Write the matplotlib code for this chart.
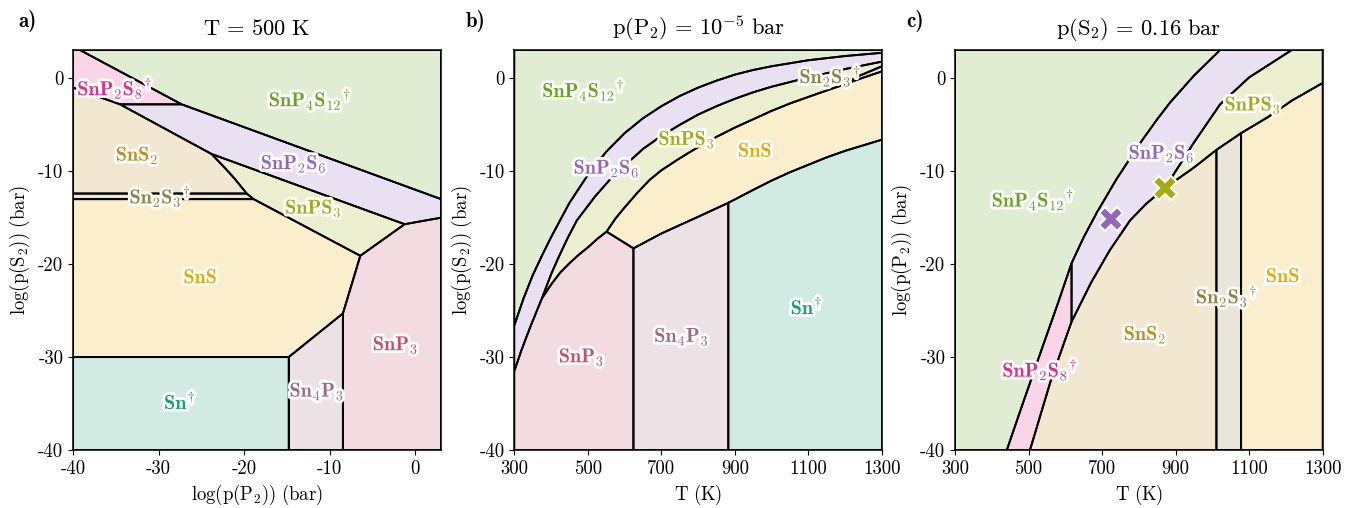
import numpy as np
import matplotlib
matplotlib.use('Agg')
import matplotlib.pyplot as plt
import matplotlib.patheffects as pe
from matplotlib.colors import to_rgba

plt.rcParams['font.family'] = 'serif'
plt.rcParams['font.serif'] = ['cmr10']
plt.rcParams['mathtext.fontset'] = 'cm'
plt.rcParams['axes.unicode_minus'] = False
plt.rcParams['font.size'] = 13.5

###### Phase colours #######################################
col = {'Sn': '#1b9e77', 'SnS': '#e6ab02', 'SnS2': '#c0901e', 'Sn2S3': '#8a8444',
       'SnPS3': '#a4ac14', 'SnP2S6': '#9467bd', 'SnP2S8': '#e7298a',
       'SnP4S12': '#66a61e', 'SnP3': '#c4506c', 'Sn4P3': '#a26a80'}

###### Panel a : T = 500 K, x = log p(P2), y = log p(S2) ####
a_snp4s12_x = [-39.2, -27.3, 3, 3]
a_snp4s12_y = [3.05, -2.8, -13.0, 3.05]
a_snp2s8_x = [-40, -39.2, -27.3, -34.5, -40]
a_snp2s8_y = [3.05, 3.05, -2.8, -2.8, -1.0]
a_snp2s6_x = [-34.5, -27.3, 3, 3, -1.25, -23.8]
a_snp2s6_y = [-2.8, -2.8, -13.0, -15.0, -15.7, -8.15]
a_sns2_x = [-40, -34.5, -23.8, -22.5, -21.2, -19.7, -40]
a_sns2_y = [-1.0, -2.8, -8.15, -9.4, -10.7, -12.4, -12.4]
a_sn2s3_x = [-40, -19.7, -18.9, -40]
a_sn2s3_y = [-12.4, -12.4, -13.0, -13.0]
a_snps3_x = [-23.8, -1.25, -6.43, -18.9, -19.7, -21.2, -22.5]
a_snps3_y = [-8.15, -15.7, -19.1, -13.0, -12.4, -10.7, -9.4]
a_sns_x = [-40, -18.9, -6.43, -8.46, -14.8, -40]
a_sns_y = [-13.0, -13.0, -19.1, -25.3, -30.0, -30.0]
a_snp3_x = [-1.25, 3, 3, -8.46, -8.46, -6.43]
a_snp3_y = [-15.7, -15.0, -40, -40, -25.3, -19.1]
a_sn4p3_x = [-14.8, -8.46, -8.46, -14.8]
a_sn4p3_y = [-30.0, -25.3, -40, -40]
a_sn_x = [-40, -14.8, -14.8, -40]
a_sn_y = [-30.0, -30.0, -40, -40]

###### Panel b : p(P2) = 1e-5 bar, x = T, y = log p(S2) #####
b_T1 = [300, 325, 350, 375, 400, 450, 500, 550, 600, 650, 700, 750, 800, 850, 900, 950,
        1000, 1100, 1200, 1300]
b_y1 = [-26.6, -23.7, -21.2, -19.1, -17.1, -13.4, -10.4, -7.9, -5.9, -4.3, -3.0, -1.9,
        -1.0, -0.25, 0.4, 0.9, 1.3, 1.95, 2.4, 2.75]
b_T2lo = [300, 320, 345, 375]
b_y2lo = [-31.5, -29.2, -26.6, -23.7]
b_T2 = [375, 400, 420, 445, 470, 520, 560, 600, 650, 700, 750, 800, 850, 900, 950, 1000,
        1100, 1200, 1300]
b_y2 = [-23.7, -21.1, -19.3, -17.2, -15.3, -12.7, -10.9, -9.4, -7.6, -6.2, -5.0, -3.9,
        -3.0, -2.2, -1.5, -0.9, 0.1, 1.0, 1.8]
b_T3 = [375, 400, 425, 450, 475, 500, 525, 551]
b_y3 = [-23.7, -22.2, -20.9, -19.9, -19.0, -18.2, -17.3, -16.5]
b_T4 = [551, 575, 600, 635, 669, 700, 750, 800, 850, 900, 950, 1000, 1050, 1100, 1150, 1180]
b_y4 = [-16.5, -15.1, -13.9, -12.3, -10.9, -9.9, -8.6, -7.4, -6.3, -5.3, -4.4, -3.5,
        -2.7, -2.0, -1.3, -0.9]
b_T5a = [1180, 1240, 1300]
b_y5a = [-0.9, 0.3, 1.3]
b_T5b = [1180, 1240, 1300]
b_y5b = [-0.9, -0.05, 0.75]
b_T6 = [551, 624]
b_y6 = [-16.5, -18.3]
b_T7 = [624, 700, 800, 882]
b_y7 = [-18.3, -16.7, -14.9, -13.4]
b_T8 = [882, 950, 1000, 1050, 1100, 1150, 1200, 1250, 1300]
b_y8 = [-13.4, -12.0, -11.0, -10.1, -9.3, -8.5, -7.8, -7.2, -6.6]

###### Panel c : p(S2) = 0.16 bar, x = T, y = log p(P2) #####
c_T1a = [441, 480, 531, 580, 617]
c_y1a = [-40, -35.5, -29.7, -24.2, -19.9]
c_T1b = [617, 650, 685, 740, 803, 850, 885, 950, 1021]
c_y1b = [-19.9, -17.1, -14.5, -10.8, -7.0, -4.4, -2.6, 0.3, 3.05]
c_T2a = [504, 560, 599, 617]
c_y2a = [-40, -32.6, -28.2, -26.2]
c_T2b = [617, 670, 721, 776, 820, 871]
c_y2b = [-26.2, -22.0, -18.5, -15.3, -13.5, -11.8]
c_T2c = [871, 950, 1021, 1100, 1216]
c_y2c = [-11.8, -6.9, -2.8, 0.1, 3.05]
c_T3a = [871, 950, 1011]
c_y3a = [-11.8, -9.6, -7.7]
c_T3b = [1011, 1078]
c_y3b = [-7.7, -5.9]
c_T3c = [1078, 1150, 1216, 1300]
c_y3c = [-5.9, -4.2, -2.4, -0.5]
c_mark_T = [723, 871]
c_mark_y = [-15.1, -11.8]

YTOP = 3.05


def region(ax, xs, ys, name):
    ax.fill(xs, ys, facecolor=to_rgba(col[name], 0.2), edgecolor='k',
            linewidth=1.4, zorder=1)


def label(ax, x, y, s, name):
    ax.text(x, y, s, color=col[name], ha='center', va='center', fontsize=14.5,
            zorder=5, path_effects=[pe.withStroke(linewidth=4, foreground='white')])


def r(*parts):
    return np.concatenate([np.asarray(p, dtype=float) for p in parts])


fig = plt.figure(figsize=(13.59, 5.08), dpi=100)
ax_a = fig.add_axes([73/1359, 58/508, 368/1359, 400/508])
ax_b = fig.add_axes([514.3/1359, 58/508, 367.7/1359, 400/508])
ax_c = fig.add_axes([955/1359, 58/508, 367.7/1359, 400/508])

# ---- panel a
ax = ax_a
region(ax, a_snp4s12_x, a_snp4s12_y, 'SnP4S12')
region(ax, a_snp2s8_x, a_snp2s8_y, 'SnP2S8')
region(ax, a_snp2s6_x, a_snp2s6_y, 'SnP2S6')
region(ax, a_sns2_x, a_sns2_y, 'SnS2')
region(ax, a_sn2s3_x, a_sn2s3_y, 'Sn2S3')
region(ax, a_snps3_x, a_snps3_y, 'SnPS3')
region(ax, a_sns_x, a_sns_y, 'SnS')
region(ax, a_snp3_x, a_snp3_y, 'SnP3')
region(ax, a_sn4p3_x, a_sn4p3_y, 'Sn4P3')
region(ax, a_sn_x, a_sn_y, 'Sn')
label(ax, -35.1, -1.1, r'$\mathbf{SnP_2S_8}^{\!\dagger}$', 'SnP2S8')
label(ax, -12.3, -2.3, r'$\mathbf{SnP_4S_{12}}^{\!\dagger}$', 'SnP4S12')
label(ax, -32.5, -8.3, r'$\mathbf{SnS_2}$', 'SnS2')
label(ax, -14.2, -9.2, r'$\mathbf{SnP_2S_6}$', 'SnP2S6')
label(ax, -29.8, -12.75, r'$\mathbf{Sn_2S_3}^{\!\dagger}$', 'Sn2S3')
label(ax, -11.9, -14.0, r'$\mathbf{SnPS_3}$', 'SnPS3')
label(ax, -25.1, -21.5, r'$\mathbf{SnS}$', 'SnS')
label(ax, -27.5, -34.8, r'$\mathbf{Sn}^{\!\dagger}$', 'Sn')
label(ax, -11.5, -33.7, r'$\mathbf{Sn_4P_3}$', 'Sn4P3')
label(ax, -2.3, -28.7, r'$\mathbf{SnP_3}$', 'SnP3')
ax.set_xlim(-40, 3)
ax.set_xticks([-40, -30, -20, -10, 0])
ax.set_xlabel(r'$\log(\mathrm{p}(\mathrm{P}_2))\ (\mathrm{bar})$')
ax.set_ylabel(r'$\log(\mathrm{p}(\mathrm{S}_2))\ (\mathrm{bar})$')
ax.set_title(r'$\mathrm{T}\,=\,500\ \mathrm{K}$', pad=11)

# ---- panel b
ax = ax_b
region(ax, r(b_T1, [1300, 300]), r(b_y1, [YTOP, YTOP]), 'SnP4S12')
region(ax, r(b_T1, b_T2[::-1], b_T2lo[::-1]), r(b_y1, b_y2[::-1], b_y2lo[::-1]), 'SnP2S6')
region(ax, r(b_T2, b_T5a[::-1], b_T4[::-1], b_T3[::-1]),
       r(b_y2, b_y5a[::-1], b_y4[::-1], b_y3[::-1]), 'SnPS3')
region(ax, r(b_T5a, b_T5b[::-1]), r(b_y5a, b_y5b[::-1]), 'Sn2S3')
region(ax, r(b_T4, b_T5b, b_T8[::-1], b_T7[::-1], b_T6[::-1]),
       r(b_y4, b_y5b, b_y8[::-1], b_y7[::-1], b_y6[::-1]), 'SnS')
region(ax, r(b_T2lo, b_T3, b_T6, [624, 300]), r(b_y2lo, b_y3, b_y6, [-40, -40]), 'SnP3')
region(ax, r(b_T7, [882, 624]), r(b_y7, [-40, -40]), 'Sn4P3')
region(ax, r(b_T8, [1300, 882]), r(b_y8, [-40, -40]), 'Sn')
label(ax, 488, -1.3, r'$\mathbf{SnP_4S_{12}}^{\!\dagger}$', 'SnP4S12')
label(ax, 769, -6.6, r'$\mathbf{SnPS_3}$', 'SnPS3')
label(ax, 955, -7.9, r'$\mathbf{SnS}$', 'SnS')
label(ax, 551, -9.7, r'$\mathbf{SnP_2S_6}$', 'SnP2S6')
label(ax, 1159, 0.2, r'$\mathbf{Sn_2S_3}^{\!\dagger}$', 'Sn2S3')
label(ax, 1095, -24.6, r'$\mathbf{Sn}^{\!\dagger}$', 'Sn')
label(ax, 755, -27.8, r'$\mathbf{Sn_4P_3}$', 'Sn4P3')
label(ax, 483, -30.0, r'$\mathbf{SnP_3}$', 'SnP3')
ax.set_xlabel(r'$\mathrm{T}\ (\mathrm{K})$')
ax.set_ylabel(r'$\log(\mathrm{p}(\mathrm{S}_2))\ (\mathrm{bar})$')
ax.set_title(r'$\mathrm{p}(\mathrm{P}_2)\,=\,10^{-5}\ \mathrm{bar}$', pad=11)

# ---- panel c
ax = ax_c
region(ax, r([300, 300], c_T1a, c_T1b), r([YTOP, -40], c_y1a, c_y1b), 'SnP4S12')
region(ax, r(c_T1a, c_T2a[::-1]), r(c_y1a, c_y2a[::-1]), 'SnP2S8')
region(ax, r(c_T1b, c_T2c[::-1], c_T2b[::-1]), r(c_y1b, c_y2c[::-1], c_y2b[::-1]), 'SnP2S6')
region(ax, r(c_T2c, [1300], c_T3c[::-1], c_T3b[::-1], c_T3a[::-1]),
       r(c_y2c, [YTOP], c_y3c[::-1], c_y3b[::-1], c_y3a[::-1]), 'SnPS3')
region(ax, r(c_T2a, c_T2b, c_T3a, [1011, 504]), r(c_y2a, c_y2b, c_y3a, [-40, -40]), 'SnS2')
region(ax, r(c_T3b, [1078, 1011]), r(c_y3b, [-40, -40]), 'Sn2S3')
region(ax, r(c_T3c, [1300, 1078]), r(c_y3c, [-40, -40]), 'SnS')
ax.plot(c_mark_T[0], c_mark_y[0], 'X', ms=17, color=col['SnP2S6'], mec='white', mew=1.5, zorder=4)
ax.plot(c_mark_T[1], c_mark_y[1], 'X', ms=17, color=col['SnPS3'], mec='white', mew=1.5, zorder=4)
label(ax, 512, -13.1, r'$\mathbf{SnP_4S_{12}}^{\!\dagger}$', 'SnP4S12')
label(ax, 862, -8.1, r'$\mathbf{SnP_2S_6}$', 'SnP2S6')
label(ax, 1110, -2.9, r'$\mathbf{SnPS_3}$', 'SnPS3')
label(ax, 1192, -21.4, r'$\mathbf{SnS}$', 'SnS')
label(ax, 1039, -23.5, r'$\mathbf{Sn_2S_3}^{\!\dagger}$', 'Sn2S3')
label(ax, 817, -27.6, r'$\mathbf{SnS_2}$', 'SnS2')
label(ax, 531, -31.4, r'$\mathbf{SnP_2S_8}^{\!\dagger}$', 'SnP2S8')
ax.set_xlabel(r'$\mathrm{T}\ (\mathrm{K})$')
ax.set_ylabel(r'$\log(\mathrm{p}(\mathrm{P}_2))\ (\mathrm{bar})$')
ax.set_title(r'$\mathrm{p}(\mathrm{S}_2)\,=\,0.16\ \mathrm{bar}$', pad=11)

for ax in (ax_b, ax_c):
    ax.set_xlim(300, 1300)
    ax.set_xticks([300, 500, 700, 900, 1100, 1300])
for ax in (ax_a, ax_b, ax_c):
    ax.set_ylim(-40, YTOP)
    ax.set_yticks([0, -10, -20, -30, -40])
    for s in ax.spines.values():
        s.set_linewidth(1.1)
        s.set_zorder(6)

for x0, letter in [(18, 'a)'), (466, 'b)'), (906, 'c)')]:
    fig.text(x0/1359, 1 - 21/508, letter, family='cmb10', fontsize=15, va='center')

fig.savefig('out.png', dpi=100)
